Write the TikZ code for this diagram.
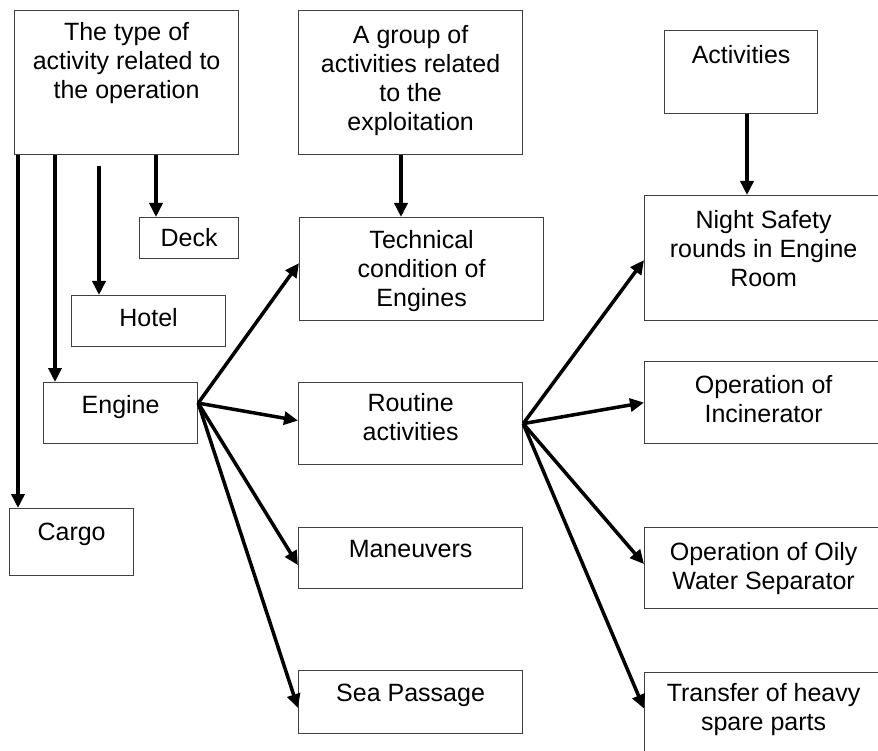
\documentclass[tikz,border=0pt]{standalone}
\usepackage{fontspec}
\setmainfont{Liberation Sans}
\usepackage{tikz}
\usetikzlibrary{arrows.meta}
\def\largeur{878}
\def\hauteur{751}
% #1 largeur, #2 hauteur, #3 marge du haut, #4 texte
\newcommand{\cadretexte}[4]{\parbox[c][#2pt][t]{#1pt}{\centering\vspace*{#3pt}#4\par}}

\begin{document}
\begin{tikzpicture}[x=1pt, y=-1pt,
  boite/.style={draw=black!75, line width=1.2pt, inner sep=0pt, anchor=north west,
    font=\fontsize{25}{29}\selectfont},
  fleche/.style={line width=3.5pt, -{Triangle[length=14pt,width=13pt]}}]
\useasboundingbox[fill=white] (0,0) rectangle (\largeur,\hauteur);

% colonne de gauche
\node[boite] (type) at (14,10) {\cadretexte{224}{144}{12}{The type of\\activity related to\\the operation}};
\node[boite] (deck) at (139,217) {\cadretexte{99}{41}{11}{Deck}};
\node[boite] (hotel) at (71,295) {\cadretexte{154}{51}{13}{Hotel}};
\node[boite] (engine) at (43,382) {\cadretexte{154}{61}{13}{Engine}};
\node[boite] (cargo) at (9,508) {\cadretexte{124}{67}{14}{Cargo}};
\coordinate (hoteldebut) at (99,166);

% colonne du milieu
\node[boite] (groupe) at (298,10) {\cadretexte{224}{144}{15}{A group of\\activities related\\to the\\exploitation}};
\node[boite] (tech) at (299,217) {\cadretexte{244}{103}{13}{Technical\\condition of\\Engines}};
\node[boite] (routine) at (298,382) {\cadretexte{224}{82}{11}{Routine\\activities}};
\node[boite] (manoeuvres) at (298,527) {\cadretexte{224}{61}{13}{Maneuvers}};
\node[boite] (mer) at (298,670) {\cadretexte{224}{63}{13}{Sea Passage}};

% colonne de droite
\node[boite] (activites) at (664,30) {\cadretexte{153}{83}{15}{Activities}};
\node[boite] (ronde) at (644,195) {\cadretexte{238}{125}{15}{Night Safety\\rounds in Engine\\Room}};
\node[boite] (incin) at (644,361) {\cadretexte{238}{82}{14}{Operation of\\Incinerator}};
\node[boite] (oily) at (644,527) {\cadretexte{238}{81}{15}{Operation of Oily\\Water Separator}};
\node[boite] (transfert) at (644,672) {\cadretexte{238}{84}{11}{Transfer of heavy\\spare parts}};

% fleches
\draw[fleche] ([xshift=142pt]type.south west) -- ([xshift=17pt]deck.north west);
\draw[fleche] ([xshift=41pt]type.south west) -- ([xshift=12pt]engine.north west);
\draw[fleche] ([xshift=4pt]type.south west) -- ([xshift=9pt]cargo.north west);
\draw[fleche] (hoteldebut) -- ([xshift=28pt]hotel.north west);
\draw[fleche] ([xshift=103pt]groupe.south west) -- ([xshift=102pt]tech.north west);
\draw[fleche] ([xshift=83pt]activites.south west) -- ([xshift=103pt]ronde.north west);
\foreach \cible/\dy in {tech/6, routine/3, manoeuvres/-7, mer/-6}
  \draw[fleche] ([yshift=10pt]engine.east) -- ([yshift=\dy pt]\cible.west);
\foreach \cible/\dy in {ronde/-2, incin/0, oily/4, transfert/6}
  \draw[fleche] (routine.east) -- ([yshift=\dy pt]\cible.west);
\end{tikzpicture}
\end{document}
